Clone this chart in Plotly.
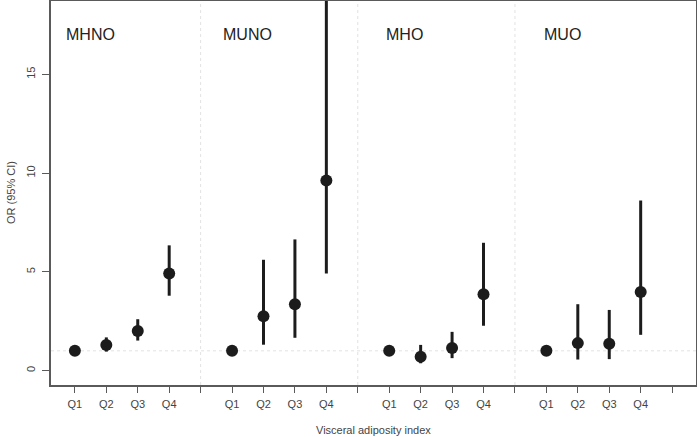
import plotly.graph_objects as go

groups = ["MHNO", "MUNO", "MHO", "MUO"]
quartiles = ["Q1", "Q2", "Q3", "Q4"]

# Odds ratios and 95% CI per group (Q1 = reference)
or_mhno = [1.0, 1.30, 2.00, 4.92]
lo_mhno = [1.0, 0.96, 1.52, 3.79]
hi_mhno = [1.0, 1.68, 2.60, 6.34]

or_muno = [1.0, 2.75, 3.36, 9.62]
lo_muno = [1.0, 1.31, 1.66, 4.92]
hi_muno = [1.0, 5.61, 6.64, 19.5]

or_mho = [1.0, 0.70, 1.14, 3.86]
lo_mho = [1.0, 0.37, 0.63, 2.27]
hi_mho = [1.0, 1.30, 1.96, 6.47]

or_muo = [1.0, 1.39, 1.36, 3.98]
lo_muo = [1.0, 0.56, 0.58, 1.81]
hi_muo = [1.0, 3.36, 3.07, 8.61]

ors = [or_mhno, or_muno, or_mho, or_muo]
los = [lo_mhno, lo_muno, lo_mho, lo_muo]
his = [hi_mhno, hi_muno, hi_mho, hi_muo]

y_ticks = [0, 5, 10, 15]

dark = "#1c1c1c"
axis_col = "#5a5a5a"
txt_col = "#444444"
font_fam = "Liberation Sans, Arial, Helvetica, sans-serif"

fig = go.Figure()

tickvals, ticktext = [], []
for g, name in enumerate(groups):
    xs = [g * 5 + q + 1 for q in range(4)]
    ys = ors[g]
    plus = [h - o for h, o in zip(his[g], ys)]
    minus = [o - l for o, l in zip(ys, los[g])]
    fig.add_trace(go.Scatter(
        x=xs, y=ys, mode="markers",
        marker=dict(size=12, color=dark, line=dict(width=0)),
        error_y=dict(type="data", symmetric=False, array=plus, arrayminus=minus,
                     width=0, thickness=3, color=dark),
        showlegend=False, cliponaxis=True, hoverinfo="skip",
    ))
    tickvals += xs + [g * 5 + 5]
    ticktext += quartiles + [""]
    fig.add_annotation(x=g * 5 + 1.5, y=17, text=name, showarrow=False,
                       xanchor="center", yanchor="middle",
                       font=dict(size=16, color="#222222", family=font_fam))

# axis titles
fig.add_annotation(xref="paper", yref="paper", x=0.5, y=0, yshift=-45,
                   text="Visceral adiposity index", showarrow=False,
                   xanchor="center", yanchor="middle",
                   font=dict(size=11, color=txt_col, family=font_fam))
fig.add_annotation(xref="paper", yref="paper", x=0, y=0.5, xshift=-40,
                   text="OR (95% CI)", showarrow=False, textangle=-90,
                   xanchor="center", yanchor="middle",
                   font=dict(size=11, color=txt_col, family=font_fam))

shapes = []
for g in range(1, 4):
    shapes.append(dict(type="line", xref="x", yref="paper", x0=g * 5, x1=g * 5,
                       y0=0, y1=1, line=dict(color="#e2e2e2", width=1, dash="dot"),
                       layer="below"))
shapes.append(dict(type="line", xref="paper", yref="y", x0=0, x1=1, y0=1, y1=1,
                   line=dict(color="#e2e2e2", width=1, dash="dot"), layer="below"))

fig.update_layout(
    width=697, height=437,
    margin=dict(l=51, r=1, t=1, b=52),
    paper_bgcolor="white", plot_bgcolor="white",
    font=dict(family=font_fam, size=11, color=txt_col),
    shapes=shapes,
    hovermode=False,
    xaxis=dict(range=[0.24, 20.76], tickvals=tickvals, ticktext=ticktext,
               automargin=False, ticklabelstandoff=2,
               showgrid=False, zeroline=False, showline=True, mirror=True,
               linecolor=axis_col, linewidth=1.5, ticks="outside", ticklen=6,
               tickcolor=axis_col, tickfont=dict(size=11, color=txt_col)),
    yaxis=dict(range=[-0.73, 18.71], tickvals=y_ticks, ticktext=[str(v) for v in y_ticks],
               tickangle=-90, automargin=False, ticklabelstandoff=3,
               showgrid=False, zeroline=False, showline=True, mirror=True,
               linecolor=axis_col, linewidth=1.5, ticks="outside", ticklen=7,
               tickcolor=axis_col, tickfont=dict(size=11, color=txt_col)),
)

fig.write_html("out.html", config={"displayModeBar": False},
               post_script="document.body.style.margin='0px';document.body.style.overflow='hidden';")
